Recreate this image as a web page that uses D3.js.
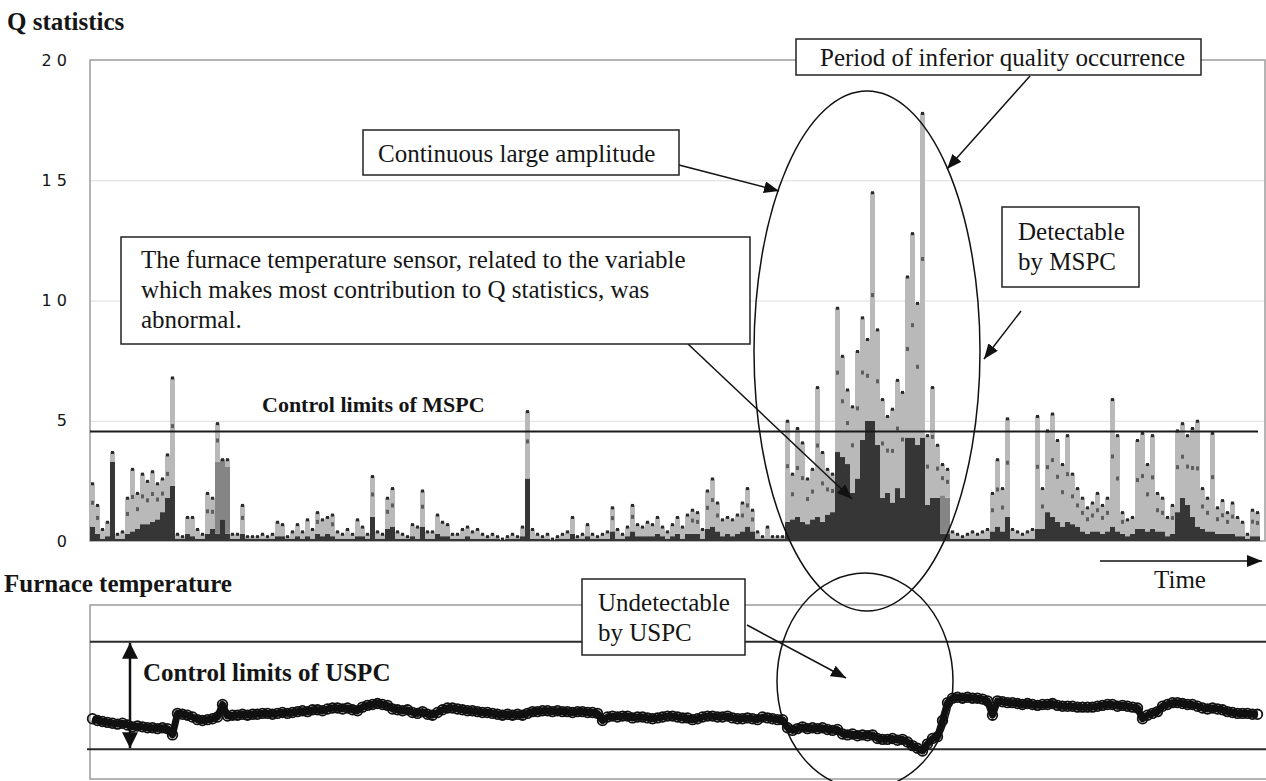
<!DOCTYPE html>
<html>
<head>
  <meta charset="utf-8">
  <title>Q statistics and furnace temperature</title>
  <script src="https://cdn.jsdelivr.net/npm/d3@7"></script>
  <style>
    body { margin: 0; background: #fff; }
    svg text { fill: #151515; }
    .serif { font-family: "Liberation Serif", "Times New Roman", serif; }
    .bold { font-weight: 700; }
  </style>
</head>
<body>
  <div id="chart"></div>
  <script>
    // Q statistics, one stacked bar per time step
    const qTicks = [0, 5, 10, 15, 20];
    const qGrid = [5, 10, 15];
    const qControlLimit = 4.55;

    const qTotal = [
      2.4, 1.5, 0.5, 0.8, 3.7, 0.3, 0.4, 1.8, 3.0, 2.0,
      2.8, 2.5, 2.9, 2.4, 2.6, 3.6, 6.8, 0.3, 0.2, 1.0,
      1.0, 0.5, 0.3, 2.0, 1.8, 4.9, 3.4, 3.4, 0.3, 0.3,
      1.5, 0.2, 0.2, 0.2, 0.3, 0.2, 0.3, 0.8, 0.7, 0.2,
      0.4, 0.7, 0.4, 0.9, 0.5, 1.2, 0.9, 1.0, 1.1, 0.4,
      0.3, 0.5, 0.3, 0.9, 0.6, 0.3, 2.7, 0.4, 0.3, 1.8,
      2.2, 0.4, 0.3, 0.2, 0.7, 0.6, 2.1, 0.4, 0.4, 1.1,
      0.8, 0.7, 0.3, 0.3, 0.5, 0.6, 0.4, 0.5, 0.3, 0.2,
      0.3, 0.2, 0.1, 0.2, 0.3, 0.2, 0.6, 5.4, 0.5, 0.3,
      0.2, 0.3, 0.1, 0.2, 0.3, 0.4, 1.0, 0.2, 0.3, 0.7,
      0.3, 0.2, 0.3, 0.4, 1.4, 0.5, 0.3, 0.6, 1.5, 0.7,
      0.6, 0.8, 0.7, 1.0, 0.6, 0.4, 0.7, 1.0, 0.6, 1.1,
      1.3, 1.2, 0.5, 2.1, 2.6, 1.6, 0.9, 1.0, 0.9, 1.1,
      1.6, 2.2, 1.3, 0.4, 0.2, 0.6, 0.2, 0.2, 0.2, 5.0,
      2.8, 4.7, 4.1, 2.6, 3.0, 6.4, 3.7, 3.0, 2.8, 9.7,
      7.7, 6.3, 5.6, 7.9, 9.3, 8.4, 14.5, 8.8, 5.9, 5.2,
      5.5, 6.7, 6.2, 11.0, 12.8, 9.9, 17.8, 4.4, 6.4, 4.0,
      3.2, 3.0, 0.4, 0.3, 0.2, 0.3, 0.4, 0.3, 0.4, 0.5,
      2.0, 3.4, 2.2, 5.1, 0.5, 0.4, 0.3, 0.4, 0.5, 5.2,
      2.2, 4.6, 5.3, 4.2, 3.2, 4.4, 2.8, 2.2, 1.8, 1.4,
      1.6, 2.0, 1.5, 1.8, 5.9, 4.4, 1.2, 0.9, 1.0, 4.2,
      4.5, 3.2, 4.4, 2.0, 1.8, 1.0, 1.5, 4.6, 4.9, 4.4,
      4.7, 5.0, 2.2, 1.8, 4.5, 1.4, 1.7, 1.2, 1.6, 1.0,
      0.8, 0.3, 1.3, 1.2
    ];

    // dark contribution at the bottom of each bar
    const qDark = [
      0.6, 0.3, 0.1, 0.2, 3.3, 0.1, 0.1, 0.3, 0.4, 0.5,
      0.7, 0.7, 0.8, 0.9, 1.2, 1.8, 2.3, 0.1, 0.1, 0.3,
      0.2, 0.1, 0.1, 0.3, 0.5, 0.3, 0.9, 0.3, 0.1, 0.1,
      0.3, 0.1, 0.1, 0.1, 0.1, 0.1, 0.1, 0.2, 0.2, 0.1,
      0.1, 0.2, 0.1, 0.2, 0.1, 0.3, 0.2, 0.3, 0.2, 0.1,
      0.1, 0.1, 0.1, 0.2, 0.2, 0.1, 1.0, 0.1, 0.1, 0.5,
      0.6, 0.1, 0.1, 0.1, 0.2, 0.1, 0.6, 0.1, 0.1, 0.3,
      0.2, 0.2, 0.1, 0.1, 0.1, 0.2, 0.1, 0.1, 0.1, 0.1,
      0.1, 0.1, 0.05, 0.1, 0.1, 0.1, 0.2, 2.6, 0.1, 0.1,
      0.1, 0.1, 0.05, 0.1, 0.1, 0.1, 0.3, 0.1, 0.1, 0.2,
      0.1, 0.1, 0.1, 0.1, 0.4, 0.1, 0.1, 0.2, 0.4, 0.2,
      0.2, 0.2, 0.2, 0.3, 0.2, 0.1, 0.2, 0.3, 0.1, 0.3,
      0.3, 0.3, 0.1, 0.5, 0.6, 0.4, 0.2, 0.3, 0.2, 0.3,
      0.4, 0.6, 0.4, 0.1, 0.1, 0.1, 0.1, 0.1, 0.1, 0.8,
      0.9, 1.0, 0.8, 0.7, 0.9, 1.0, 0.8, 1.1, 1.2, 3.7,
      3.5, 3.2, 2.0, 2.6, 4.2, 5.0, 5.0, 4.0, 1.8, 2.0,
      1.6, 2.2, 1.8, 4.3, 4.3, 4.0, 4.3, 1.5, 1.8, 1.8,
      0.3, 0.3, 0.1, 0.1, 0.1, 0.1, 0.1, 0.1, 0.1, 0.1,
      0.4, 0.6, 0.4, 1.0, 0.1, 0.1, 0.1, 0.1, 0.1, 0.5,
      0.5, 1.2, 1.0, 0.8, 0.6, 0.8, 0.7, 0.6, 0.4, 0.3,
      0.4, 0.4, 0.3, 0.4, 0.6, 0.4, 0.3, 0.2, 0.3, 0.5,
      0.5, 0.4, 0.5, 0.4, 0.4, 0.2, 0.3, 1.2, 1.8, 1.5,
      1.0, 0.6, 0.5, 0.4, 0.4, 0.3, 0.3, 0.3, 0.3, 0.2,
      0.2, 0.1, 0.2, 0.2
    ];

    // the few bars with a medium grey block
    const qMidIndex = [25, 26, 27, 170, 171];
    const qMidValue = [3.0, 2.5, 2.8, 1.6, 1.5];

    // furnace temperature (arbitrary units), same time steps
    const furnaceTemp = [
      37, 36, 35.5, 35, 34.5, 34, 34.5, 33.5, 32.5, 33,
      32.5, 32, 32, 31.5, 32, 31.5, 28, 40, 39.5, 39,
      38, 36.5, 36, 36.5, 37, 38, 45, 38.5, 39, 39,
      39.5, 39, 39.5, 39.5, 40, 40, 39.5, 40, 40.5, 40,
      40.5, 41, 41.5, 41, 42, 42, 41.5, 42.5, 43, 43,
      42.5, 43, 42, 41.5, 43.5, 44.5, 45, 45.5, 45, 44.5,
      42.5, 42, 41.5, 42, 40.5, 40, 41, 39.5, 39, 40.5,
      42, 43, 43, 42.5, 42, 41.5, 41.5, 41, 40.5, 40.5,
      40, 39.5, 39, 39.5, 39, 39.5, 39, 40, 41, 41,
      41.5, 41.5, 41, 41.5, 41, 41, 40.5, 41, 41, 40.5,
      40.5, 40, 36, 38, 38.5, 38, 38.5, 38.5, 37.5, 38,
      38, 37.5, 37, 37.5, 38, 38.5, 38.5, 38, 37.5, 37.5,
      36.5, 37, 38, 38.5, 38.5, 38, 38, 38.5, 37.5, 37,
      37, 37.5, 37, 36.5, 38, 37.5, 37, 36.5, 36.5, 32,
      30.5, 31.5, 32.5, 31.5, 32, 31.5, 32, 31, 30.5, 31,
      28.5, 28, 28.5, 27.5, 28, 27.5, 28, 26, 25.5, 25.5,
      26, 25, 25.5, 24, 22, 20.5, 19, 23, 26, 27,
      36, 46, 48.5, 49, 48.5, 49, 48.5, 48.5, 48, 47,
      39, 47, 46.5, 46, 46, 45.5, 45, 45.5, 45, 44.5,
      45, 45, 45.5, 44.5, 44, 44, 44, 43.5, 43.5, 43.5,
      43.5, 44, 44.5, 45, 45, 44, 44.5, 44, 43.5, 43,
      37, 39, 40, 41, 44, 45, 46, 46, 45.5, 45,
      45, 44, 43, 42.5, 43, 42.5, 42, 41, 40.5, 40,
      40, 40, 39.5, 39.5
    ];
    const uspcLimits = [20, 80];

    const width = 1266;
    const height = 781;

    const svg = d3.select("#chart").append("svg")
        .attr("width", width)
        .attr("height", height);

    const defs = svg.append("defs");
    function addHead(id, w, h) {
      defs.append("marker")
          .attr("id", id)
          .attr("viewBox", "0 0 10 10")
          .attr("preserveAspectRatio", "none")
          .attr("refX", 10).attr("refY", 5)
          .attr("markerUnits", "userSpaceOnUse")
          .attr("markerWidth", w).attr("markerHeight", h)
          .attr("orient", "auto-start-reverse")
        .append("path")
          .attr("d", "M0,0L10,5L0,10z")
          .attr("fill", "#111");
    }
    addHead("head", 15, 12);
    addHead("headBig", 16, 16);

    // scales
    const x = d3.scaleBand()
        .domain(d3.range(qTotal.length))
        .range([90, 1260])
        .padding(0);
    const yQ = d3.scaleLinear().domain([0, 20]).range([541, 60]);
    const yT = d3.scaleLinear().domain([0, 100]).range([785, 606]);
    const plotRight = 1265;

    // ---------- Q statistics panel ----------
    svg.append("text")
        .attr("class", "serif bold")
        .attr("x", 7).attr("y", 30)
        .style("font-size", "25px")
        .text("Q statistics");

    // gridlines
    svg.append("g")
        .attr("transform", "translate(90,0)")
        .call(d3.axisLeft(yQ).tickValues(qGrid).tickSize(-(plotRight - 90)).tickFormat(""))
        .call(g => g.select(".domain").remove())
        .call(g => g.selectAll("line").attr("stroke", "#dcdcdc"));

    // tick labels
    svg.append("g")
        .attr("transform", "translate(90,0)")
        .call(d3.axisLeft(yQ).tickValues(qTicks).tickSize(0).tickPadding(23)
          .tickFormat(d => String(d).split("").join(" ")))
        .call(g => g.select(".domain").remove())
        .call(g => g.selectAll("text")
          .style("font-family", "'DejaVu Sans', sans-serif")
          .style("font-size", "16px")
          .attr("fill", "#222"));

    svg.append("rect")
        .attr("x", 90).attr("y", yQ(20))
        .attr("width", plotRight - 90).attr("height", yQ(0) - yQ(20))
        .attr("fill", "none")
        .attr("stroke", "#9c9c9c")
        .attr("stroke-width", 1.5);

    const rows = qTotal.map((t, i) => {
      const k = qMidIndex.indexOf(i);
      const mid = k >= 0 ? qMidValue[k] : 0;
      return { i, dark: qDark[i], mid, light: Math.max(0, t - qDark[i] - mid) };
    });
    const stacked = d3.stack().keys(["dark", "mid", "light"])(rows);
    const fills = { dark: "#363636", mid: "#858585", light: "#b9b9b9" };

    svg.append("g")
      .selectAll("g")
      .data(stacked)
      .join("g")
        .attr("fill", s => fills[s.key])
      .selectAll("rect")
      .data(s => s)
      .join("rect")
        .attr("x", d => x(d.data.i))
        .attr("y", d => yQ(d[1]))
        .attr("width", x.bandwidth())
        .attr("height", d => yQ(d[0]) - yQ(d[1]));

    // speckles inside the light part, like the original print
    svg.append("g")
      .selectAll("rect")
      .data(rows.filter(r => r.light > 0.8))
      .join("rect")
        .attr("x", d => x(d.i) + 1)
        .attr("y", d => yQ(d.dark + d.mid + d.light * 0.55) - 2)
        .attr("width", 3)
        .attr("height", 4)
        .attr("fill", "#5e5e5e");

    // dark tips on the bars
    svg.append("g")
      .selectAll("rect")
      .data(qTotal)
      .join("rect")
        .attr("x", (d, i) => x(i) + 1)
        .attr("y", d => yQ(d) - 1)
        .attr("width", x.bandwidth() - 2)
        .attr("height", 3)
        .attr("fill", "#2a2a2a");

    // MSPC control limit
    svg.append("line")
        .attr("x1", 90).attr("x2", 1258)
        .attr("y1", yQ(qControlLimit)).attr("y2", yQ(qControlLimit))
        .attr("stroke", "#1a1a1a")
        .attr("stroke-width", 2);

    svg.append("text")
        .attr("class", "serif bold")
        .attr("x", 262).attr("y", 412)
        .style("font-size", "22px")
        .text("Control limits of MSPC");

    // time arrow
    svg.append("line")
        .attr("x1", 1100).attr("x2", 1262)
        .attr("y1", 561).attr("y2", 561)
        .attr("stroke", "#111").attr("stroke-width", 1.5)
        .attr("marker-end", "url(#head)");
    svg.append("text")
        .attr("class", "serif")
        .attr("x", 1180).attr("y", 588)
        .attr("text-anchor", "middle")
        .style("font-size", "25px")
        .text("Time");

    // ---------- Furnace temperature panel ----------
    svg.append("text")
        .attr("class", "serif bold")
        .attr("x", 4).attr("y", 592)
        .style("font-size", "25px")
        .text("Furnace temperature");

    svg.append("rect")
        .attr("x", 90).attr("y", 605)
        .attr("width", 1180).attr("height", 174)
        .attr("fill", "none")
        .attr("stroke", "#9c9c9c")
        .attr("stroke-width", 1.5);

    svg.append("g")
      .selectAll("line")
      .data(uspcLimits)
      .join("line")
        .attr("x1", (d, i) => i === 0 ? 87 : 90)
        .attr("x2", width)
        .attr("y1", d => yT(d)).attr("y2", d => yT(d))
        .attr("stroke", "#2a2a2a")
        .attr("stroke-width", 2);

    const tx = i => x(i) + x.bandwidth() / 2;
    svg.append("path")
        .datum(furnaceTemp)
        .attr("fill", "none")
        .attr("stroke", "#111")
        .attr("stroke-width", 7)
        .attr("stroke-linejoin", "round")
        .attr("d", d3.line().x((d, i) => tx(i)).y(d => yT(d)));

    svg.append("g")
      .selectAll("circle")
      .data(furnaceTemp)
      .join("circle")
        .attr("cx", (d, i) => tx(i))
        .attr("cy", d => yT(d))
        .attr("r", 4.8)
        .attr("fill", "none")
        .attr("stroke", "#111")
        .attr("stroke-width", 1.8);

    // USPC double arrow
    svg.append("line")
        .attr("x1", 130).attr("x2", 130)
        .attr("y1", yT(uspcLimits[1]) + 1).attr("y2", yT(uspcLimits[0]) - 1)
        .attr("stroke", "#111").attr("stroke-width", 2.5)
        .attr("marker-start", "url(#headBig)")
        .attr("marker-end", "url(#headBig)");
    svg.append("text")
        .attr("class", "serif bold")
        .attr("x", 143).attr("y", 681)
        .style("font-size", "25px")
        .text("Control limits of USPC");

    // ---------- annotations ----------
    const ann = svg.append("g");

    ann.append("ellipse")
        .attr("cx", 867).attr("cy", 351).attr("rx", 113).attr("ry", 260)
        .attr("fill", "none").attr("stroke", "#111").attr("stroke-width", 1.5);
    ann.append("ellipse")
        .attr("cx", 865).attr("cy", 681).attr("rx", 88).attr("ry", 108)
        .attr("fill", "none").attr("stroke", "#111").attr("stroke-width", 1.5);

    const arrows = [
      [1030, 76, 947, 169],
      [679, 165, 779, 191],
      [688, 344, 852, 499],
      [1021, 311, 984, 359],
      [747, 625, 846, 678]
    ];
    ann.selectAll("line.arrow")
      .data(arrows)
      .join("line")
        .attr("class", "arrow")
        .attr("x1", d => d[0]).attr("y1", d => d[1])
        .attr("x2", d => d[2]).attr("y2", d => d[3])
        .attr("stroke", "#111").attr("stroke-width", 1.5)
        .attr("marker-end", "url(#head)");

    const boxes = [
      { x: 796, y: 39, w: 405, h: 36, tx: 820, ty: 66,
        lines: ["Period of inferior quality occurrence"] },
      { x: 363, y: 130, w: 316, h: 45, tx: 378, ty: 162,
        lines: ["Continuous large amplitude"] },
      { x: 121, y: 237, w: 629, h: 107, tx: 141, ty: 268,
        lines: ["The furnace temperature sensor, related to the variable",
                "which makes most contribution to Q statistics, was",
                "abnormal."] },
      { x: 1002, y: 207, w: 137, h: 80, tx: 1018, ty: 240,
        lines: ["Detectable", "by MSPC"] },
      { x: 582, y: 579, w: 163, h: 76, tx: 598, ty: 611,
        lines: ["Undetectable", "by USPC"] }
    ];

    const bx = ann.selectAll("g.box")
      .data(boxes)
      .join("g")
        .attr("class", "box");
    bx.append("rect")
        .attr("x", d => d.x).attr("y", d => d.y)
        .attr("width", d => d.w).attr("height", d => d.h)
        .attr("fill", "#fff")
        .attr("stroke", "#222").attr("stroke-width", 1.5);
    bx.each(function(d) {
      d3.select(this).selectAll("text")
        .data(d.lines)
        .join("text")
          .attr("class", "serif")
          .attr("x", d.tx)
          .attr("y", (t, k) => d.ty + k * 30)
          .style("font-size", "25px")
          .text(t => t);
    });
  </script>
</body>
</html>
